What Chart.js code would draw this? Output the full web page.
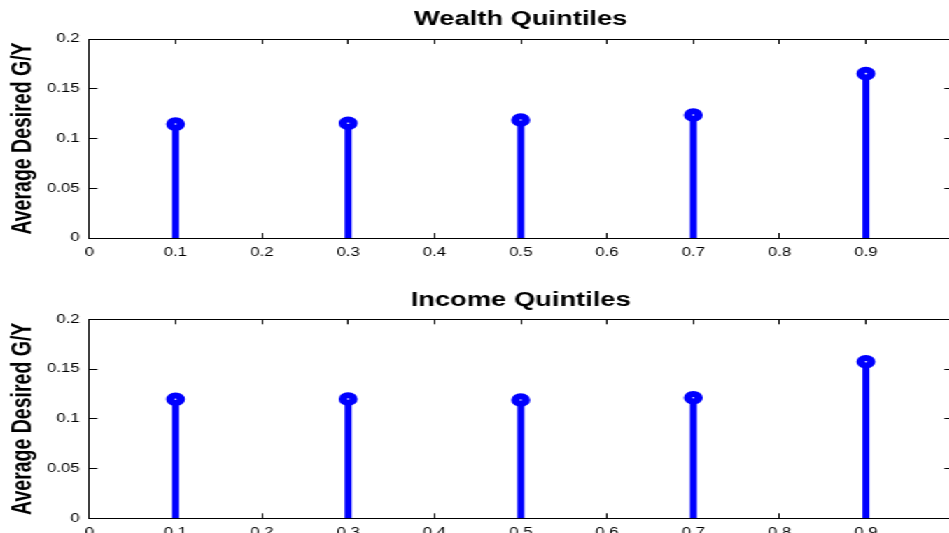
<!DOCTYPE html>
<html>
<head>
<meta charset="utf-8">
<script src="https://cdn.jsdelivr.net/npm/chart.js@4/dist/chart.umd.min.js"></script>
<style>
  html, body { margin: 0; padding: 0; background: #fff; overflow: hidden; width: 949px; height: 533px; }
  /* the figure is laid out narrow and then widened, like the exported figure */
  #figure { position: absolute; left: 0; top: 0; width: 690px; height: 546px; transform: scaleX(1.4); transform-origin: 0 0; }
  .panel { position: absolute; left: 0; width: 690px; }
  #wealthPanel { top: 0; height: 266px; }
  #incomePanel { top: 266px; height: 280px; }
</style>
</head>
<body>
<div id="figure">
  <div class="panel" id="wealthPanel"><canvas id="wealthChart" width="690" height="266"></canvas></div>
  <div class="panel" id="incomePanel"><canvas id="incomeChart" width="690" height="280"></canvas></div>
</div>
<script>
// Quintile midpoints and average desired government share of output
const quintiles = [0.1, 0.3, 0.5, 0.7, 0.9];
const wealthGY  = [0.1145, 0.1153, 0.1186, 0.1236, 0.1652];
const incomeGY  = [0.1196, 0.1199, 0.1189, 0.1211, 0.1574];

// the axis runs to 1, whose tick sits on the right-hand frame
const xTickValues = [0, 0.1, 0.2, 0.3, 0.4, 0.5, 0.6, 0.7, 0.8, 0.9];
const yTickValues = [0, 0.05, 0.1, 0.15, 0.2];

const wealthTitle = 'Wealth Quintiles';
const incomeTitle = 'Income Quintiles';
const yAxisLabel = 'Average Desired G/Y';

const FONT = "'Liberation Sans', Arial, Helvetica, sans-serif";
const STEM_BLUE = '#0000ff';

// vertical stems from zero up to each value, separated by gaps
function stemPoints(xs, ys) {
  const pts = [];
  xs.forEach((x, i) => {
    pts.push({ x: x, y: 0 }, { x: x, y: ys[i] }, { x: x, y: null });
  });
  return pts;
}

function fixedTicks(values) {
  return scale => { scale.ticks = values.map(v => ({ value: v })); };
}

function makePanel(canvasId, title, values, padTop, xAxisHeight) {
  const axisCommon = {
    type: 'linear',
    border: { display: true, color: '#000', width: 1 },
  };
  return new Chart(document.getElementById(canvasId), {
    type: 'scatter',
    data: {
      datasets: [
        {
          data: quintiles.map((x, i) => ({ x: x, y: values[i] })),
          order: 0,
          pointStyle: 'circle',
          pointRadius: 3.8,
          pointHoverRadius: 3.8,
          borderWidth: 6,
          backgroundColor: '#ffffff',
          borderColor: STEM_BLUE,
          showLine: false
        },
        {
          data: stemPoints(quintiles, values),
          order: 1,
          showLine: true,
          spanGaps: false,
          borderColor: STEM_BLUE,
          borderWidth: 5,
          borderCapStyle: 'butt',
          pointRadius: 0,
          pointHoverRadius: 0
        }
      ]
    },
    options: {
      responsive: false,
      animation: false,
      events: [],
      layout: { padding: { left: 0, right: 7.2, top: padTop, bottom: 0 } },
      plugins: {
        legend: { display: false },
        tooltip: { enabled: false },
        title: {
          display: true,
          fullSize: false,
          text: title,
          color: '#000',
          font: { family: FONT, size: 19.5, weight: 'bold' },
          padding: { top: 8.2, bottom: 7.4 }
        }
      },
      scales: {
        x: Object.assign({}, axisCommon, {
          position: 'bottom',
          min: 0, max: 1,
          afterBuildTicks: fixedTicks(xTickValues),
          afterFit: s => { s.height = xAxisHeight; },
          grid: { drawOnChartArea: false, drawTicks: true, tickLength: -5, tickColor: '#000', tickWidth: 1 },
          ticks: {
            color: '#000', font: { family: FONT, size: 12 }, padding: 12,
            maxRotation: 0, minRotation: 0, autoSkip: false,
            callback: v => String(v)
          }
        }),
        x2: Object.assign({}, axisCommon, {
          position: 'top',
          min: 0, max: 1,
          afterBuildTicks: fixedTicks(xTickValues),
          afterFit: s => { s.height = 0; },
          grid: { drawOnChartArea: false, drawTicks: true, tickLength: -5, tickColor: '#000', tickWidth: 1 },
          ticks: { display: false }
        }),
        y: Object.assign({}, axisCommon, {
          position: 'left',
          min: 0, max: 0.2,
          afterBuildTicks: fixedTicks(yTickValues),
          afterFit: s => { s.width = 63.8; },
          grid: { drawOnChartArea: false, drawTicks: true, tickLength: -5.7, tickColor: '#000', tickWidth: 1 },
          ticks: {
            color: '#000', font: { family: FONT, size: 12 }, padding: 12.6,
            autoSkip: false, callback: v => String(v)
          },
          title: {
            display: true,
            text: yAxisLabel,
            color: '#000',
            font: { family: FONT, size: 19.5, weight: 'bold' },
            padding: { top: 5, bottom: 0 }
          }
        }),
        y2: Object.assign({}, axisCommon, {
          position: 'right',
          min: 0, max: 0.2,
          afterBuildTicks: fixedTicks(yTickValues),
          afterFit: s => { s.width = 0; },
          grid: { drawOnChartArea: false, drawTicks: true, tickLength: -5.7, tickColor: '#000', tickWidth: 1 },
          ticks: { display: false }
        })
      }
    }
  });
}

makePanel('wealthChart', wealthTitle, wealthGY, 0, 28);
makePanel('incomeChart', incomeTitle, incomeGY, 14.3, 27.7);
</script>
</body>
</html>
